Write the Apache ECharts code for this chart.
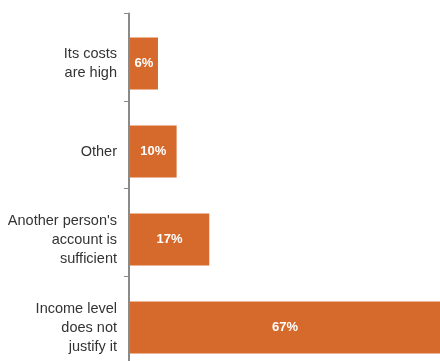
<!DOCTYPE html>
<html>
<head>
<meta charset="utf-8">
<script src="https://cdn.jsdelivr.net/npm/echarts@6/dist/echarts.min.js"></script>
<style>
  html, body { margin: 0; padding: 0; background: #fff; }
  #chart { width: 440px; height: 361px; }
</style>
</head>
<body>
<div id="chart"></div>
<script>
// Reasons given, listed top to bottom
const reasons = [
  "Its costs\nare high",
  "Other",
  "Another person's\naccount is\nsufficient",
  "Income level\ndoes not\njustify it"
];
// Share of respondents, percent
const shares = [6, 10, 17, 67];

const font = 'Liberation Sans, Arial, sans-serif';
const axisGray = '#8a8a8a';

const chart = echarts.init(document.getElementById('chart'), null, { renderer: 'canvas' });
chart.setOption({
  animation: false,
  backgroundColor: '#ffffff',
  grid: [
    // bars and category labels (runs past the bottom edge)
    { left: 130, width: 310, top: 19.5, height: 352, outerBoundsMode: 'none', containLabel: false },
    // vertical axis line with its separator ticks
    { left: 129, width: 311, top: 13.5, height: 350, outerBoundsMode: 'none', containLabel: false }
  ],
  xAxis: [
    { gridIndex: 0, type: 'value', min: 0, max: 66.5, show: false },
    { gridIndex: 1, type: 'value', min: 0, max: 66.5, show: false }
  ],
  yAxis: [
    {
      gridIndex: 0,
      type: 'category',
      inverse: true,
      data: reasons,
      axisLine: { show: false },
      axisTick: { show: false },
      axisLabel: {
        margin: 13,
        color: '#333333',
        fontFamily: font,
        fontSize: 14.5,
        lineHeight: 19,
        align: 'right'
      }
    },
    {
      gridIndex: 1,
      type: 'category',
      inverse: true,
      data: reasons,
      axisLine: { show: true, lineStyle: { color: axisGray, width: 2 } },
      axisTick: { show: true, length: 5, lineStyle: { color: axisGray, width: 1 } },
      axisLabel: { show: false }
    }
  ],
  series: [{
    type: 'bar',
    xAxisIndex: 0,
    yAxisIndex: 0,
    data: shares,
    barCategoryGap: '41%',
    itemStyle: { color: '#d66a2c' },
    label: {
      show: true,
      position: 'inside',
      formatter: p => p.value + '%',
      color: '#ffffff',
      fontWeight: 'bold',
      fontFamily: font,
      fontSize: 13
    }
  }]
});
</script>
</body>
</html>
